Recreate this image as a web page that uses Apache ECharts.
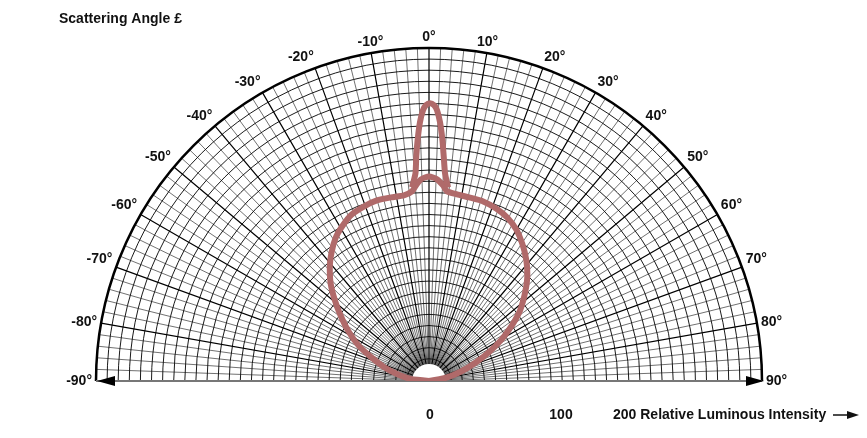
<!DOCTYPE html>
<html><head><meta charset="utf-8">
<script src="https://cdn.jsdelivr.net/npm/echarts@6/dist/echarts.min.js"></script>
<style>html,body{margin:0;padding:0;background:#fff}#c{width:867px;height:438px}</style>
</head><body><div id="c"></div>
<script>
// Angle ticks (degrees) and bottom intensity tick labels
const angleTicks = [-90,-80,-70,-60,-50,-40,-30,-20,-10,0,10,20,30,40,50,60,70,80,90];
const intensityLabels = ['0','100','200'];
// Main lobe: angle (deg) and relative radius
const lobeAngles = [-90,-83.7,-77.7,-72.7,-67.5,-63.4,-58.5,-53.55,-49.25,-45.3,-41.2,-36.94,-33.04,-29.02,-24.9,-20.5,-16.1,-11.7,-7.7,-5.14,-3.81,-2.28,0,2.28,4.11,5.44,8.56,12.33,16.79,21.28,25.57,29.95,34.17,38.72,42.76,47.16,52.04,55.99,60.34,64.2,68.63,73.8,79.4,90];
const lobeValues = [0,16.4,29.6,42.6,56.7,70.7,84.8,98.9,112.1,124.6,135.7,145.8,154.1,160.2,165.4,167.8,169.3,168.9,168.7,171.5,176.6,181.8,184.3,181.8,176.7,171.6,170.0,169.3,169.0,166.8,163.3,157.5,149.6,140.1,130.5,118.3,104.3,90.5,74.9,60.2,44.6,29.2,14.7,0];
// Narrow forward spike
const spikeAngles = [-5.03,-3.73,-3.24,-2.68,-2.0,-1.27,-0.63,0.21,1.04,1.70,2.44,3.16,3.75,4.42,5.62];
const spikeValues = [175.1,187.4,202.7,218.0,233.3,244.0,248.5,250.3,248.5,244.1,233.3,218.1,202.8,187.6,175.2];

const cx = 429, cy = 381, R = 333;
const fam = '"Liberation Sans", Arial, sans-serif';
const font = 'bold 14px ' + fam;
const chart = echarts.init(document.getElementById('c'));
const toPairs = (a, v) => a.map((x, i) => [v[i], x]);

chart.setOption({
  animation: false,
  backgroundColor: '#fff',
  polar: { center: [cx, cy], radius: R },
  angleAxis: {
    type: 'value', min: -90, max: 90, interval: 10,
    startAngle: 180, endAngle: 0, clockwise: true,
    axisLine: { show: true, lineStyle: { color: '#000', width: 2.5 } },
    axisTick: { show: false },
    axisLabel: { show: true, margin: 4, color: '#111', fontWeight: 'bold', fontSize: 14,
      fontFamily: fam,
      formatter: v => angleTicks.includes(v) ? v + '°' : '' },
    splitLine: { show: true, lineStyle: { color: '#000', width: 1.2 } },
    minorTick: { show: false, splitNumber: 5 },
    minorSplitLine: { show: true, lineStyle: { color: '#111', width: 0.6 } }
  },
  radiusAxis: {
    type: 'value', min: 0, max: 300, interval: 10,
    axisLine: { show: false }, axisTick: { show: false }, axisLabel: { show: false },
    splitLine: { show: true, lineStyle: { color: '#000', width: 0.9 } }
  },
  graphic: [
    { type: 'text', left: 59, top: 12, style: { text: 'Scattering Angle £', font: font, fill: '#111' } },
    { type: 'sector', z: 1, shape: { cx: cx, cy: cy, r: 17, r0: 0, startAngle: Math.PI, endAngle: 2 * Math.PI }, style: { fill: '#fff' } },
    { type: 'line', z: 1, shape: { x1: cx - R, y1: cy, x2: cx + R, y2: cy }, style: { stroke: '#777', lineWidth: 2 } },
    { type: 'polygon', z: 3, shape: { points: [[cx - R + 1, cy], [cx - R + 19, cy - 5], [cx - R + 19, cy + 5]] }, style: { fill: '#000' } },
    { type: 'polygon', z: 3, shape: { points: [[cx + R + 2, cy], [cx + R - 16, cy - 5], [cx + R - 16, cy + 5]] }, style: { fill: '#000' } },
    { type: 'text', x: 430, y: 408, style: { text: intensityLabels[0], font: font, fill: '#111', align: 'center' } },
    { type: 'text', x: 561, y: 408, style: { text: intensityLabels[1], font: font, fill: '#111', align: 'center' } },
    { type: 'text', x: 613, y: 408, style: { text: intensityLabels[2] + ' Relative Luminous Intensity', font: font, fill: '#111' } },
    { type: 'line', shape: { x1: 833, y1: 415, x2: 850, y2: 415 }, style: { stroke: '#111', lineWidth: 1.5 } },
    { type: 'polygon', shape: { points: [[859, 415], [847, 411], [847, 419]] }, style: { fill: '#111' } }
  ],
  series: [
    { type: 'line', coordinateSystem: 'polar', z: 5, data: toPairs(lobeAngles, lobeValues),
      showSymbol: false, smooth: 0.2, lineStyle: { color: '#b06a6a', width: 6 } },
    { type: 'line', coordinateSystem: 'polar', z: 5, data: toPairs(spikeAngles, spikeValues),
      showSymbol: false, smooth: 0.2, lineStyle: { color: '#b06a6a', width: 6 } }
  ]
});
</script></body></html>
